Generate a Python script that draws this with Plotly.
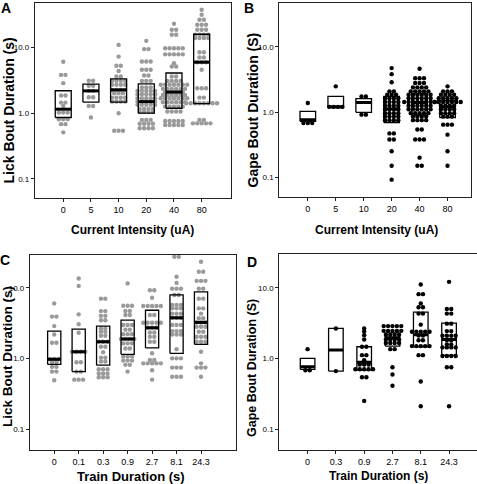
import plotly.graph_objects as go
import math

# ---------------- DATA ----------------
A_categories = ["0", "5", "10", "20", "40", "80"]
A_values = [
    [6.1] + [3.84]*2 + [2.87] + [1.86]*2 + [1.45]*2 + [1.29] + [1.02]*3 + [0.81]*3 + [0.68]*2 + [0.51],
    [3.12]*2 + [2.61]*2 + [2.19]*2 + [1.75]*2 + [1.29]*2 + [0.86],
    [11.0, 7.3] + [5.3]*2 + [4.4] + [3.63]*2 + [3.12]*4 + [2.71]*4 + [2.27]*4 + [2.02]*3 + [1.73]*4 + [1.51]*4 + [1.0] + [0.54]*3,
    [12.7] + [9.5]*2 + [6.15]*3 + [4.6]*3 + [3.76]*2 + [3.11]*3 + [2.47]*3 + [2.19]*5 + [1.95]*5 + [1.69]*5 + [1.51]*5 + [1.34]*5 + [1.16]*4 + [1.04]*4 + [0.79]*3 + [0.69]*4 + [0.59]*4,
    [23.1] + [18.7]*2 + [15.7]*2 + [9.8]*5 + [7.9]*5 + [5.8] + [5.15]*2 + [3.63]*2 + [3.11]*4 + [2.71]*7 + [2.35]*6 + [2.09]*5 + [1.9]*6 + [1.69]*7 + [1.47]*6 + [1.26]*5 + [1.06]*4 + [0.76]*5 + [0.66]*5,
    [37.8, 31.7] + [26.6]*2 + [22.3]*3 + [18.7]*3 + [15.7]*4 + [14.0]*4 + [8.5]*2 + [7.1]*2 + [6.0]*3 + [4.6] + [2.4]*3 + [1.73]*2 + [1.42]*8 + [0.79]*2 + [0.70]*5,
]
A_box_low = [0.86, 1.47, 1.47, 1.0, 1.19, 1.4]
A_box_med = [1.15, 2.19, 2.27, 1.5, 2.1, 6.0]
A_box_high = [2.2, 2.77, 3.34, 2.8, 4.1, 16.0]

B_categories = ["0", "5", "10", "20", "40", "80"]
B_values = [
    [1.37] + [0.68]*3,
    [2.47] + [1.2]*4,
    [1.73]*2 + [0.91]*2,
    [4.7, 3.8, 2.85] + [2.07]*2 + [1.84]*3 + [1.62]*4 + [1.42]*4 + [1.25]*4 + [1.10]*4 + [0.96]*4 + [0.85]*4 + [0.75]*4 + [0.47]*2 + [0.38]*2 + [0.25, 0.15, 0.092],
    [4.6] + [3.3]*3 + [2.78]*3 + [2.38]*4 + [2.07]*5 + [1.84]*6 + [1.62]*6 + [1.42]*8 + [1.25]*6 + [1.10]*6 + [0.96]*5 + [0.85]*4 + [0.75]*4 + [0.54]*2 + [0.38]*3 + [0.2] + [0.15]*2,
    [2.47] + [2.07]*3 + [1.84]*4 + [1.62]*5 + [1.42]*7 + [1.25]*4 + [1.10]*4 + [0.96]*4 + [0.85]*3 + [0.64]*3 + [0.45, 0.25, 0.15],
]
B_box_low = [0.72, 1.17, 0.99, 0.69, 0.9, 0.82]
B_box_med = [0.76, 1.2, 1.4, 1.11, 1.4, 1.2]
B_box_high = [1.02, 1.73, 1.6, 1.74, 1.9, 1.5]

C_categories = ["0", "0.1", "0.3", "0.9", "2.7", "8.1", "24.3"]
C_values = [
    [6.0] + [3.9]*2 + [2.86, 2.18] + [1.66]*2 + [0.98]*3 + [0.88]*2 + [0.76]*2 + [0.65]*2 + [0.49],
    [13.5, 10.6, 4.2, 3.05, 2.3] + [1.24]*4 + [0.88]*2 + [0.65]*2 + [0.5]*3,
    [7.0]*2 + [4.67]*2 + [4.0]*2 + [3.47]*2 + [2.65]*2 + [2.38]*2 + [2.09]*2 + [1.72]*3 + [1.46]*2 + [1.22] + [1.02]*2 + [0.9]*2 + [0.7]*3 + [0.61]*3 + [0.54]*3,
    [11.5] + [5.55]*3 + [4.7]*2 + [4.1]*2 + [2.96]*3 + [2.55]*2 + [2.2]*3 + [1.88]*4 + [1.63]*3 + [1.38]*2 + [1.06]*3 + [0.93]*3 + [0.81]*2 + [0.65],
    [9.2]*2 + [7.2] + [5.5]*5 + [4.1]*2 + [3.19]*5 + [2.71]*3 + [2.33]*2 + [2.02]*2 + [1.72]*2 + [1.18] + [0.95]*2 + [0.85]*5 + [0.68] + [0.5],
    [27.4]*2 + [14.3, 11.7] + [9.7]*3 + [7.9]*2 + [5.7]*3 + [5.1]*3 + [4.3]*3 + [3.75]*3 + [2.96]*3 + [2.43]*3 + [2.18]*3 + [1.35] + [1.0]*3 + [0.74]*3 + [0.55]*3,
    [23.3] + [16.8]*2 + [12.5]*3 + [9.7]*2 + [7.0]*2 + [5.1]*2 + [4.3] + [3.7]*2 + [3.23]*3 + [2.8]*3 + [2.38]*2 + [2.02]*3 + [1.72]*3 + [1.24, 0.85] + [0.74]*3 + [0.55],
]
C_box_low = [0.82, 0.65, 0.8, 1.14, 1.41, 1.18, 1.58]
C_box_med = [0.97, 1.24, 1.72, 1.88, 2.71, 3.75, 3.23]
C_box_high = [2.43, 2.6, 2.86, 3.47, 4.8, 7.9, 8.75]

D_categories = ["0", "0.3", "0.9", "2.7", "8.1", "24.3"]
D_values = [
    [1.35] + [0.68]*2,
    [2.65, 0.66],
    [2.65, 2.4, 2.13, 1.85] + [1.46]*2 + [1.11]*2 + [0.94] + [0.82]*3 + [0.7]*5 + [0.54]*2 + [0.25],
    [2.86]*5 + [2.45]*5 + [2.15]*4 + [1.85]*4 + [1.65]*4 + [1.35]*2 + [0.75, 0.59, 0.41],
    [11.1] + [8.1]*2 + [6.0] + [5.3]*2 + [4.3]*2 + [3.0] + [2.38]*5 + [2.1]*2 + [1.8]*2 + [1.49]*5 + [1.11]*2 + [0.47, 0.21],
    [12.1] + [5.0]*2 + [4.3]*2 + [3.1]*2 + [2.43]*2 + [2.09]*4 + [1.8]*2 + [1.57]*2 + [1.43]*4 + [1.08]*4 + [0.75]*2 + [0.21],
]
D_box_low = [0.70, 0.66, 0.68, 1.49, 1.46, 1.1]
D_box_med = [0.76, 1.31, 0.88, 1.95, 2.15, 1.85]
D_box_high = [1.0, 2.65, 1.46, 2.3, 4.5, 3.15]

Y_TICKS = [0.1, 1, 10]
Y_TICK_TEXT = ["0.1", "1.0", "10.0"]

# ---------------- LAYOUT GEOMETRY ----------------
W, H = 477, 484
FONT = "Liberation Sans, Arial, sans-serif"
DOT_PX = 4.4

panels = [
    dict(cats=A_categories, vals=A_values, lo=A_box_low, med=A_box_med, hi=A_box_high,
         color="#9a9a9a", px=(35, 231), py=(3, 198), xr=(-1.02, 6.06), yr=(-1.294, 1.681), half_px=8.0),
    dict(cats=B_categories, vals=B_values, lo=B_box_low, med=B_box_med, hi=B_box_high,
         color="#000000", px=(279.3, 471), py=(3, 196.7), xr=(-1.02, 5.84), yr=(-1.297, 1.669), half_px=7.8),
    dict(cats=C_categories, vals=C_values, lo=C_box_low, med=C_box_med, hi=C_box_high,
         color="#9a9a9a", px=(30, 236), py=(255, 450), xr=(-0.99, 7.43), yr=(-1.297, 1.463), half_px=6.6),
    dict(cats=D_categories, vals=D_values, lo=D_box_low, med=D_box_med, hi=D_box_high,
         color="#000000", px=(279.3, 476.5), py=(254, 450), xr=(-1.0, 5.97), yr=(-1.297, 1.477), half_px=7.3),
]

fig = go.Figure()
layout = {}

for i, p in enumerate(panels):
    n = "" if i == 0 else str(i + 1)
    xa, ya = "x" + n, "y" + n
    ppu = (p["px"][1] - p["px"][0]) / (p["xr"][1] - p["xr"][0])
    dx = DOT_PX / ppu
    hw = p["half_px"] / ppu
    xs, ys = [], []
    for gi, vals in enumerate(p["vals"]):
        rows = {}
        for v in vals:
            rows[v] = rows.get(v, 0) + 1
        for v, cnt in rows.items():
            for k in range(cnt):
                xs.append(gi + (k - (cnt - 1) / 2) * dx)
                ys.append(v)
    fig.add_trace(go.Scatter(x=xs, y=ys, mode="markers", xaxis=xa, yaxis=ya,
                             marker=dict(size=DOT_PX, color=p["color"], line=dict(width=0)),
                             showlegend=False, hoverinfo="skip", cliponaxis=False))
    for gi in range(len(p["cats"])):
        lo, md, hi = p["lo"][gi], p["med"][gi], p["hi"][gi]
        fig.add_trace(go.Scatter(x=[gi - hw, gi + hw, gi + hw, gi - hw, gi - hw],
                                 y=[lo, lo, hi, hi, lo], mode="lines", xaxis=xa, yaxis=ya,
                                 line=dict(color="black", width=1.3), showlegend=False, hoverinfo="skip"))
        fig.add_trace(go.Scatter(x=[gi - hw, gi + hw], y=[md, md], mode="lines", xaxis=xa, yaxis=ya,
                                 line=dict(color="black", width=3), showlegend=False, hoverinfo="skip"))
    common = dict(showline=True, mirror=True, linecolor="#222", linewidth=1.2, ticks="outside",
                  tickcolor="#222", showgrid=False, zeroline=False,
                  tickfont=dict(family=FONT, size=9, color="black"))
    layout["xaxis" + n] = dict(common, domain=[p["px"][0] / W, p["px"][1] / W], anchor=ya,
                               range=list(p["xr"]), tickvals=list(range(len(p["cats"]))),
                               ticktext=p["cats"], ticklen=3)
    layout["yaxis" + n] = dict(common, domain=[1 - p["py"][1] / H, 1 - p["py"][0] / H], anchor=xa,
                               type="log", range=list(p["yr"]), tickvals=Y_TICKS, ticktext=Y_TICK_TEXT,
                               ticklen=3, tickfont=dict(family=FONT, size=8, color="black"))

def ann(text, x, y, size, angle=0):
    return dict(text="<b>%s</b>" % text, x=x / W, y=1 - y / H, xref="paper", yref="paper",
                showarrow=False, textangle=angle, xanchor="center", yanchor="middle",
                font=dict(family=FONT, size=size, color="black"))

annotations = [
    ann("A", 6, 8, 14), ann("B", 249, 8, 14), ann("C", 5, 260, 14), ann("D", 252, 262, 14),
    ann("Lick Bout Duration (s)", 8.5, 111, 14, -90),
    ann("Gape Bout Duration (S)", 252.5, 110, 14, -90),
    ann("Lick Bout Duration (s)", 7, 357, 13.5, -90),
    ann("Gape Bout Duration (S)", 252, 368, 12.5, -90),
    ann("Current Intensity (uA)", 132, 230, 12),
    ann("Current Intensity (uA)", 376, 230, 12),
    ann("Train Duration (s)", 130.5, 476, 13),
    ann("Train Duration (s)", 378.5, 476, 12),
]

fig.update_layout(width=W, height=H, margin=dict(l=0, r=0, t=0, b=0),
                  paper_bgcolor="white", plot_bgcolor="white", showlegend=False,
                  annotations=annotations, **layout)
fig.write_html("out.html", config={"displayModeBar": False},
               post_script="document.body.style.margin='0';document.body.style.padding='0';")
